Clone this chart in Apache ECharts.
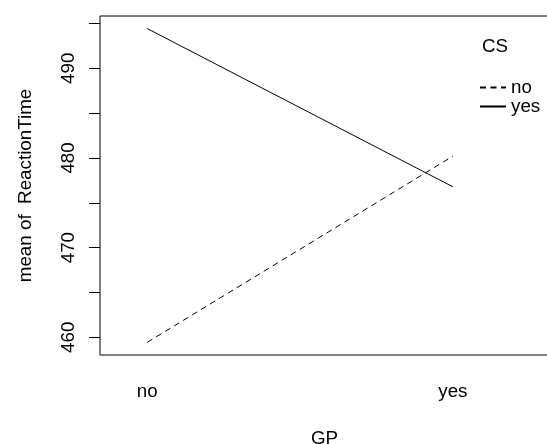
<!DOCTYPE html>
<html>
<head>
<meta charset="utf-8">
<script src="https://cdn.jsdelivr.net/npm/echarts@6/dist/echarts.min.js"></script>
<style>
  html, body { margin: 0; padding: 0; background: #fff; }
  #chart { width: 547px; height: 444px; }
</style>
</head>
<body>
<div id="chart"></div>
<script>
// Interaction plot: mean ReactionTime by GP, one trace per CS level
const gpLevels = ['no', 'yes'];
const gpPositions = [1, 2];
const csLevels = ['no', 'yes'];
const meanNo = [459.44, 480.2];
const meanYes = [494.42, 476.78];
const yTicks = [460, 465, 470, 475, 480, 485, 490, 495];
const yLabels = [460, 470, 480, 490];

const FONT = 'Liberation Sans, Arial, Helvetica, sans-serif';
const FS = 18.8;

const chart = echarts.init(document.getElementById('chart'), null, { renderer: 'canvas' });

const pairs = (vals) => gpPositions.map((x, i) => [x, vals[i]]);

chart.setOption({
  animation: false,
  backgroundColor: '#fff',
  color: ['#000', '#000'],
  textStyle: { fontFamily: FONT, color: '#000' },
  title: {
    text: 'CS',
    left: 482,
    top: 37,
    padding: 0,
    textStyle: { fontFamily: FONT, fontSize: FS, fontWeight: 'normal', color: '#000' }
  },
  legend: {
    data: csLevels,
    orient: 'vertical',
    left: 479,
    top: 78,
    padding: 0,
    itemGap: 0,
    itemWidth: 26,
    itemHeight: 14,
    itemStyle: { opacity: 0 },
    textStyle: { fontFamily: FONT, fontSize: FS, color: '#000', lineHeight: 14 }
  },
  grid: {
    left: 100,
    top: 16,
    right: -2,
    bottom: 89,
    containLabel: false,
    outerBoundsMode: 'none',
    show: true,
    borderColor: '#000',
    borderWidth: 1,
    backgroundColor: 'transparent'
  },
  xAxis: {
    type: 'value',
    min: 0.8456,
    max: 2.3144,
    name: 'GP',
    nameLocation: 'middle',
    nameGap: 74,
    nameTextStyle: { fontFamily: FONT, fontSize: FS, color: '#000' },
    axisLine: { show: false },
    axisTick: { show: false },
    splitLine: { show: false },
    axisLabel: {
      customValues: gpPositions,
      formatter: (v) => gpLevels[Math.round(v) - 1],
      margin: 27,
      fontFamily: FONT,
      fontSize: FS,
      color: '#000'
    }
  },
  yAxis: {
    type: 'value',
    min: 458.03,
    max: 495.82,
    name: 'mean of  ReactionTime',
    nameLocation: 'middle',
    nameGap: 65,
    nameRotate: 90,
    nameTextStyle: { fontFamily: FONT, fontSize: FS, color: '#000' },
    axisLine: { show: false },
    splitLine: { show: false },
    axisTick: {
      show: true,
      length: 11,
      customValues: yTicks,
      lineStyle: { color: '#000', width: 1 }
    },
    axisLabel: {
      customValues: yLabels,
      rotate: 90,
      margin: 22,
      fontFamily: FONT,
      fontSize: FS,
      color: '#000'
    }
  },
  series: [
    {
      name: 'no',
      type: 'line',
      data: pairs(meanNo),
      symbol: 'none',
      itemStyle: { color: '#000' },
      lineStyle: { color: '#000', width: 1, type: [6, 4.5] }
    },
    {
      name: 'yes',
      type: 'line',
      data: pairs(meanYes),
      symbol: 'none',
      itemStyle: { color: '#000' },
      lineStyle: { color: '#000', width: 1, type: 'solid' }
    }
  ]
});
</script>
</body>
</html>
